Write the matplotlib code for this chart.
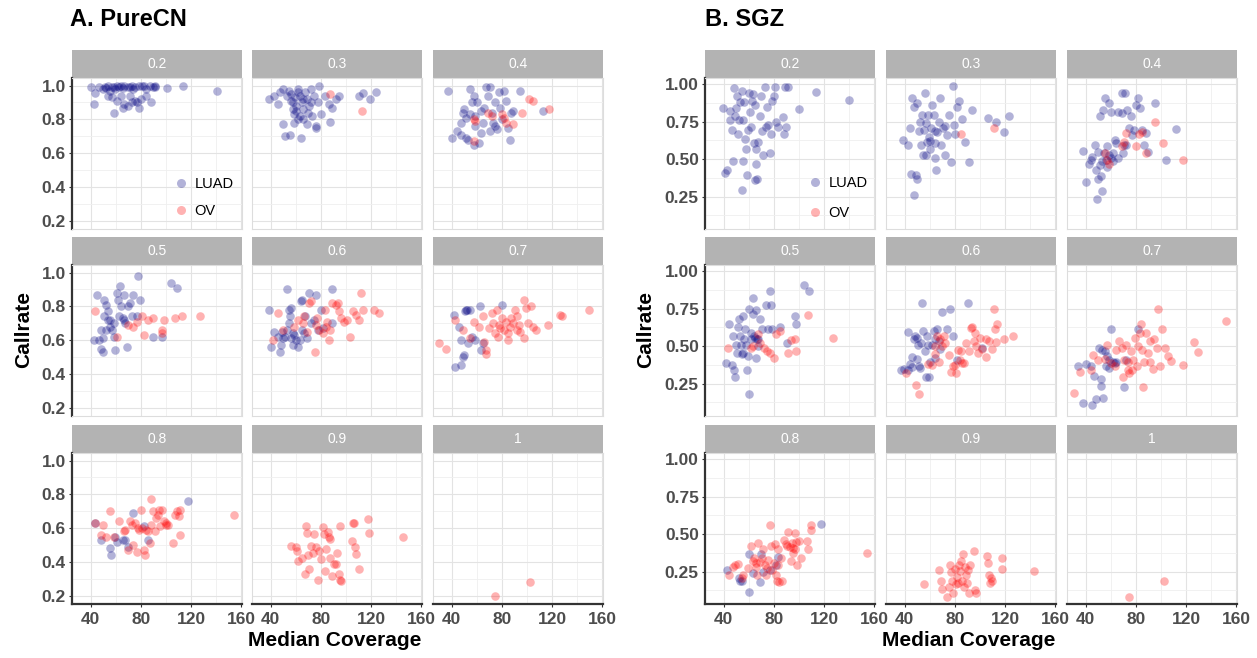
import matplotlib
matplotlib.use('Agg')
import matplotlib.pyplot as plt
from matplotlib.lines import Line2D
from matplotlib.ticker import FixedLocator, FixedFormatter

plt.rcParams['font.family'] = ['Liberation Sans', 'DejaVu Sans']

# ---------------- data ----------------
FACETS = ['0.2', '0.3', '0.4', '0.5', '0.6', '0.7', '0.8', '0.9', '1']
X_TICKS = [40, 80, 120, 160]
A_Y_TICKS = [0.2, 0.4, 0.6, 0.8, 1.0]
A_Y_LABELS = ['0.2', '0.4', '0.6', '0.8', '1.0']
B_Y_TICKS = [0.25, 0.50, 0.75, 1.00]
B_Y_LABELS = ['0.25', '0.50', '0.75', '1.00']
GROUPS = ['LUAD', 'OV']

# PureCN (panel A): (median coverage, callrate)
purecn_luad_02 = [(40, 0.99), (43.7, 0.956), (42.3, 0.89), (46.6, 0.99), (49.5, 0.98), (51, 0.99), (52.4, 0.984),
                  (53.8, 0.996), (55.3, 0.97), (56.7, 0.99), (58.1, 0.99), (59.6, 0.98), (61, 1.0), (62.4, 0.99),
                  (63.9, 1.0), (65.3, 0.984), (66.8, 0.995), (69.6, 0.99), (71, 0.99), (72.5, 0.995), (73.9, 0.98),
                  (75.4, 0.99), (78.2, 1.0), (81.1, 0.995), (82.6, 0.996), (84, 0.98), (86.9, 0.995), (89.8, 0.99),
                  (91.2, 0.99), (58.1, 0.84), (53.8, 0.94), (56.7, 0.93), (61, 0.91), (63.9, 0.94), (66.8, 0.89),
                  (69.6, 0.88), (72.5, 0.9), (75.4, 0.91), (78.2, 0.87), (79.7, 0.92), (84, 0.94), (88.3, 0.9),
                  (91.2, 0.995), (100.7, 0.985), (113.4, 0.995), (140.7, 0.97), (65.3, 0.87), (76.8, 0.9), (71, 0.94)]
purecn_ov_02 = []
purecn_luad_03 = [(38.6, 0.92), (42.9, 0.94), (45.8, 0.89), (47.2, 0.96), (50, 0.98), (52.9, 0.94), (54.4, 0.97),
                  (55.8, 0.91), (57.3, 0.86), (58.7, 0.83), (60.1, 0.88), (61.6, 0.98), (63, 0.94), (64.5, 0.9),
                  (65.9, 0.86), (67.3, 0.96), (68.8, 0.92), (70.2, 0.88), (71.7, 0.98), (73.1, 0.82), (74.5, 0.94),
                  (76, 0.76), (77.4, 0.9), (78.8, 1.0), (49.5, 0.77), (51.5, 0.70), (55.3, 0.71), (63.9, 0.69),
                  (58.7, 0.78), (61.6, 0.80), (76, 0.75), (68.8, 0.77), (87.5, 0.785), (83.2, 0.94), (86, 0.89),
                  (88.9, 0.87), (91.8, 0.92), (94.6, 0.94), (80.3, 0.83), (110, 0.94), (113.4, 0.955), (119.1, 0.92),
                  (123.5, 0.96), (56, 0.95), (59, 0.93), (62, 0.96), (66, 0.92), (60, 0.85), (63, 0.82), (66, 0.8),
                  (70, 0.84), (72, 0.9), (58, 0.9)]
purecn_ov_03 = [(87.5, 0.95), (112.8, 0.85)]
purecn_luad_04 = [(37, 0.97), (40, 0.69), (44.3, 0.73), (47.2, 0.78), (48.6, 0.84), (50.1, 0.86), (51.5, 0.81),
                  (52.9, 0.68), (54.4, 0.98), (55.8, 0.9), (57.3, 0.94), (58.7, 0.76), (60.1, 0.9), (61.6, 0.66),
                  (63, 0.72), (64.5, 0.78), (65.9, 0.87), (67.3, 0.99), (68.8, 0.94), (70.2, 0.99), (71.7, 0.84),
                  (73.1, 0.78), (74.5, 0.9), (76, 0.74), (77.4, 0.96), (78.8, 0.87), (80.3, 0.8), (81.7, 0.97),
                  (83.2, 0.91), (84.6, 0.75), (86, 0.68), (87.5, 0.84), (88.9, 0.85), (94.7, 0.97), (112.7, 0.85),
                  (51.5, 0.69), (57.3, 0.65), (47.2, 0.71), (54.4, 0.83), (58.7, 0.82), (63, 0.85), (70.2, 0.73),
                  (74.5, 0.76)]
purecn_ov_04 = [(57.3, 0.80), (58.7, 0.79), (57.3, 0.67), (68.8, 0.84), (71.7, 0.82), (80.3, 0.83), (81.7, 0.81),
                (83.2, 0.78), (88.9, 0.77), (96.1, 0.84), (101.9, 0.92), (104.7, 0.91), (117.7, 0.86)]
purecn_luad_05 = [(44.6, 0.87), (42.3, 0.60), (46.6, 0.6), (48.1, 0.55), (49.5, 0.53), (50.9, 0.84), (51.8, 0.81),
                  (52.4, 0.66), (53.8, 0.72), (55.3, 0.72), (56.7, 0.66), (58.1, 0.62), (59.6, 0.54), (61, 0.88),
                  (61.9, 0.84), (63.3, 0.92), (63.9, 0.8), (65.3, 0.73), (66.8, 0.87), (67.3, 0.70), (68.8, 0.56),
                  (69.6, 0.8), (71, 0.82), (74, 0.87), (77.6, 0.98), (79.1, 0.84), (50.9, 0.74), (53.8, 0.77),
                  (48.1, 0.66), (49.5, 0.61), (55.3, 0.68), (58.1, 0.7), (62.4, 0.74), (66.8, 0.72), (89.8, 0.62),
                  (97, 0.62), (104.2, 0.94), (108.5, 0.91), (72.5, 0.74), (76.8, 0.74)]
purecn_ov_05 = [(43.7, 0.77), (61, 0.62), (69.6, 0.69), (74, 0.68), (76.8, 0.71), (81.1, 0.74), (85.4, 0.72),
                (89.8, 0.73), (82.6, 0.63), (97, 0.66), (98.4, 0.72), (107.1, 0.73), (112.8, 0.74), (127.2, 0.74),
                (97, 0.64)]
purecn_luad_06 = [(38.6, 0.78), (40, 0.56), (42.9, 0.65), (45.8, 0.62), (47.2, 0.53), (47.8, 0.57), (49.5, 0.61),
                  (51.5, 0.62), (52.9, 0.9), (54.4, 0.78), (55.2, 0.74), (56.4, 0.79), (57.8, 0.57), (60.1, 0.6),
                  (61.6, 0.56), (63.9, 0.83), (65, 0.84), (66.5, 0.64), (68.8, 0.61), (70.2, 0.88), (71.7, 0.7),
                  (76, 0.87), (77.4, 0.66), (80.3, 0.78), (81.7, 0.67), (89, 0.9), (89, 0.7), (52.9, 0.66),
                  (57.3, 0.64), (58.7, 0.63), (55.8, 0.61), (63, 0.6), (74.5, 0.72), (67.3, 0.74), (64.5, 0.66),
                  (54.4, 0.7), (48.6, 0.65)]
purecn_ov_06 = [(41.4, 0.6), (45.8, 0.76), (50.1, 0.66), (58.7, 0.68), (61.9, 0.72), (65.6, 0.7), (70.2, 0.82),
                (71.7, 0.83), (75.2, 0.53), (76, 0.69), (78.8, 0.66), (81.7, 0.64), (83.2, 0.78), (84.6, 0.71),
                (86, 0.6), (87.5, 0.66), (89, 0.82), (91.8, 0.81), (93.3, 0.82), (94.7, 0.77), (96.1, 0.73),
                (98.4, 0.71), (100.4, 0.72), (103.3, 0.62), (105.3, 0.77), (111.9, 0.88), (107.6, 0.75),
                (110.5, 0.72), (113.4, 0.78), (122, 0.78), (126.3, 0.76), (66.8, 0.74), (68.8, 0.65), (76.5, 0.73),
                (84, 0.68)]
purecn_luad_07 = [(41.4, 0.75), (42.3, 0.44), (45.8, 0.68), (47.2, 0.45), (48.6, 0.5), (50.1, 0.51), (50.6, 0.77),
                  (52.4, 0.78), (52.9, 0.58), (54.4, 0.78), (55.8, 0.62), (58.7, 0.6), (62.4, 0.8), (51.5, 0.78),
                  (47.2, 0.6), (63, 0.54), (64.5, 0.58), (80.3, 0.81)]
purecn_ov_07 = [(29.9, 0.58), (35.7, 0.55), (42.9, 0.72), (48.6, 0.66), (54.4, 0.61), (57.3, 0.71), (61.6, 0.68),
                (65, 0.74), (65.9, 0.59), (67.3, 0.52), (69.4, 0.67), (71.7, 0.76), (73.1, 0.7), (74.5, 0.64),
                (76, 0.78), (77.4, 0.69), (78.8, 0.67), (80.3, 0.73), (81.7, 0.66), (83.2, 0.71), (84.6, 0.6),
                (86, 0.68), (87.5, 0.73), (89, 0.7), (90.4, 0.78), (91.8, 0.74), (93.2, 0.69), (94.7, 0.65),
                (97.6, 0.84), (97.6, 0.61), (99, 0.79), (100.4, 0.7), (103.3, 0.8), (104.7, 0.68), (107, 0.66),
                (116.3, 0.69), (126.3, 0.75), (127.8, 0.74), (149.4, 0.78), (84.6, 0.64), (91.8, 0.66),
                (67.3, 0.54), (76.6, 0.62)]
purecn_luad_08 = [(43.7, 0.63), (48.1, 0.53), (55.3, 0.48), (56.1, 0.44), (59.6, 0.55), (61, 0.52), (65.3, 0.53),
                  (69.6, 0.49), (74, 0.69), (82.6, 0.61), (85.4, 0.53), (117.1, 0.76), (67.3, 0.53)]
purecn_ov_08 = [(43.7, 0.63), (49.5, 0.62), (48.1, 0.56), (52.4, 0.55), (55.3, 0.70), (58.1, 0.55), (62.4, 0.64),
                (66.1, 0.58), (67.3, 0.59), (69.6, 0.47), (71, 0.64), (72.5, 0.62), (74, 0.5), (75.4, 0.63),
                (76.8, 0.46), (78.3, 0.59), (79.7, 0.71), (81.1, 0.6), (82.6, 0.47), (83.5, 0.44), (84, 0.59),
                (85.4, 0.58), (86.9, 0.51), (88.3, 0.77), (89.8, 0.7), (91.2, 0.58), (92.1, 0.66), (93.2, 0.68),
                (94, 0.71), (95.5, 0.61), (97, 0.71), (98.4, 0.64), (99.9, 0.63), (101.3, 0.62), (105.6, 0.51),
                (107, 0.68), (108.5, 0.7), (109.9, 0.67), (111.3, 0.56), (111.3, 0.71), (154.5, 0.68),
                (99.9, 0.62), (88.3, 0.62), (77.8, 0.6)]
purecn_luad_09 = []
purecn_ov_09 = [(55.8, 0.495), (60.1, 0.49), (60.9, 0.465), (61.6, 0.405), (64.5, 0.425), (67.3, 0.325),
                (67.8, 0.615), (68.8, 0.57), (69.7, 0.44), (70.8, 0.355), (71.7, 0.495), (73.7, 0.455),
                (74.5, 0.565), (76, 0.485), (77.4, 0.29), (78.8, 0.465), (80.3, 0.415), (81.2, 0.605),
                (82.3, 0.565), (83.2, 0.345), (84, 0.475), (85.2, 0.575), (86, 0.545), (87.5, 0.425), (89, 0.315),
                (90.4, 0.385), (91.8, 0.385), (92.7, 0.455), (94.7, 0.33), (95.5, 0.295), (96.1, 0.285),
                (95.5, 0.615), (104.7, 0.525), (105.3, 0.63), (106.2, 0.63), (107, 0.49), (108.2, 0.445),
                (109.9, 0.355), (117.7, 0.655), (118.6, 0.57), (145, 0.55), (87.5, 0.535)]
purecn_luad_10 = []
purecn_ov_10 = [(74.5, 0.195), (102.4, 0.28)]

# SGZ (panel B)
sgz_luad_02 = [(39, 0.84), (41.1, 0.405), (42.7, 0.43), (44.9, 0.76), (46.4, 0.695), (48.3, 0.975), (49, 0.785),
               (49.8, 0.84), (50.5, 0.92), (51.1, 0.67), (52, 0.76), (53, 0.88), (54.2, 0.955), (55.1, 0.76),
               (55.7, 0.88), (56.7, 0.635), (57.3, 0.57), (58.2, 0.395), (59.2, 0.695), (59.8, 0.94), (60.7, 0.815),
               (61.3, 0.715), (62.3, 0.885), (63.5, 0.935), (64.4, 0.605), (65, 0.86), (66, 0.47), (66.6, 0.37),
               (67.5, 0.615), (68.5, 0.785), (69.7, 0.92), (70.7, 0.685), (71.6, 0.53), (72.8, 0.98), (73.8, 0.715),
               (74.7, 0.845), (75.3, 0.73), (76.9, 0.54), (77.8, 0.665), (78.4, 0.885), (80, 0.92), (80.9, 0.98),
               (81.5, 0.75), (83.1, 0.715), (88.4, 0.98), (90.8, 0.98), (87.1, 0.78), (89.3, 0.715), (87.7, 0.67),
               (100.2, 0.835), (113.2, 0.945), (139.9, 0.895), (47.4, 0.49), (55.1, 0.49), (44.9, 0.82),
               (66, 0.57), (54.2, 0.295), (65, 0.36)]
sgz_ov_02 = []
sgz_luad_03 = [(38.4, 0.63), (42.7, 0.595), (43.9, 0.71), (44.6, 0.4), (47.4, 0.26), (48.9, 0.395), (49.5, 0.37),
               (45.8, 0.905), (49.5, 0.875), (51.4, 0.69), (52.6, 0.595), (53.6, 0.795), (54.5, 0.53), (55.7, 0.94),
               (56.7, 0.74), (57.6, 0.615), (58.2, 0.795), (58.9, 0.645), (59.8, 0.57), (60.7, 0.705), (62, 0.86),
               (62.9, 0.795), (63.8, 0.605), (64.4, 0.505), (65.1, 0.43), (66, 0.68), (66.9, 0.75), (68.2, 0.905),
               (69.1, 0.595), (70.7, 0.705), (72.2, 0.53), (73.8, 0.66), (75.3, 0.795), (76.9, 0.48), (78.4, 0.99),
               (79.3, 0.725), (80, 0.665), (81.5, 0.85), (83.1, 0.885), (85.6, 0.77), (87.7, 0.615), (90.8, 0.48),
               (93.9, 0.83), (106.4, 0.775), (112.6, 0.75), (118.8, 0.68), (122.8, 0.785), (47.4, 0.85),
               (55.1, 0.695), (59.8, 0.62), (64.4, 0.685), (56.7, 0.53), (52, 0.75), (72.2, 0.72)]
sgz_ov_03 = [(84.6, 0.665), (111, 0.71)]
sgz_luad_04 = [(37.4, 0.555), (40.5, 0.345), (42.7, 0.47), (44.9, 0.515), (47.4, 0.595), (48, 0.43), (48.9, 0.235),
               (49.8, 0.37), (51.1, 0.785), (52, 0.385), (52.9, 0.285), (53.6, 0.83), (54.5, 0.54), (55.1, 0.905),
               (56.1, 0.495), (56.7, 0.585), (58.2, 0.875), (59.8, 0.815), (60.4, 0.505), (61.3, 0.54),
               (62.9, 0.63), (64.4, 0.605), (66, 0.815), (68.5, 0.94), (69.1, 0.805), (70.7, 0.595), (71.6, 0.94),
               (72.8, 0.83), (74.7, 0.705), (76, 0.79), (76.9, 0.66), (78.4, 0.695), (80, 0.86), (81.5, 0.905),
               (83.1, 0.84), (84.6, 0.695), (86.2, 0.595), (87.7, 0.675), (89.3, 0.545), (95.5, 0.875),
               (103.8, 0.495), (111.6, 0.7), (44.3, 0.495), (49.8, 0.55), (52.9, 0.485), (58.2, 0.53),
               (61.3, 0.485), (51.5, 0.46), (56.7, 0.45), (66, 0.505), (69.7, 0.54), (72.2, 0.595)]
sgz_ov_04 = [(55.1, 0.54), (56.7, 0.495), (58.2, 0.47), (69.1, 0.585), (70.7, 0.615), (72.2, 0.675), (80, 0.585),
             (82.1, 0.665), (84.6, 0.68), (87.7, 0.54), (95.5, 0.75), (101.7, 0.605), (117.2, 0.495)]
sgz_luad_05 = [(41.8, 0.39), (44.3, 0.65), (46.7, 0.375), (47.9, 0.34), (48.9, 0.295), (49.8, 0.51), (51.1, 0.625),
               (52, 0.68), (53, 0.57), (54.2, 0.445), (55.1, 0.7), (56.1, 0.545), (56.7, 0.615), (58.2, 0.34),
               (59.2, 0.435), (60.4, 0.75), (61.3, 0.59), (62.9, 0.82), (63.5, 0.715), (64.4, 0.57), (65.4, 0.42),
               (66, 0.74), (66.6, 0.545), (67.5, 0.5), (59.8, 0.18), (69.1, 0.68), (70.7, 0.615), (73.8, 0.775),
               (75.3, 0.615), (76.9, 0.865), (77.8, 0.775), (78.4, 0.615), (53.6, 0.51), (55.1, 0.455),
               (57.3, 0.51), (61.9, 0.545), (50.5, 0.455), (84.6, 0.625), (90.2, 0.52), (97, 0.7), (97.6, 0.65),
               (103.9, 0.905), (107.9, 0.87), (47.4, 0.57), (64.8, 0.555), (67.5, 0.545)]
sgz_ov_05 = [(43.3, 0.49), (61.3, 0.49), (62.9, 0.5), (67.5, 0.58), (72.2, 0.49), (74.7, 0.465), (76.9, 0.455),
             (80, 0.42), (81.5, 0.58), (84.6, 0.6), (90.8, 0.455), (93.9, 0.54), (96.4, 0.545), (97.6, 0.47),
             (106.9, 0.705), (127.2, 0.555), (69.1, 0.52)]
sgz_luad_06 = [(37.1, 0.34), (39.6, 0.35), (42.7, 0.595), (44.3, 0.38), (45.8, 0.36), (47.4, 0.545), (48.3, 0.57),
               (49.5, 0.415), (50.5, 0.505), (51.4, 0.365), (52, 0.355), (53.6, 0.79), (54.5, 0.6), (55.7, 0.465),
               (56.7, 0.295), (57.6, 0.57), (58.9, 0.295), (59.8, 0.395), (61.3, 0.505), (62.9, 0.6), (64.4, 0.42),
               (66, 0.615), (66.9, 0.535), (68.2, 0.48), (70, 0.725), (73.8, 0.615), (76.3, 0.745), (81.8, 0.405),
               (90.3, 0.79), (101.2, 0.49), (45.8, 0.43), (49.5, 0.555), (42.7, 0.34), (58.2, 0.505),
               (52.6, 0.52), (64.4, 0.545), (78.4, 0.57)]
sgz_ov_06 = [(41.1, 0.32), (48.9, 0.24), (51.4, 0.18), (58.2, 0.38), (61.3, 0.375), (63.8, 0.445), (66, 0.57),
             (68.2, 0.545), (70, 0.5), (72.2, 0.52), (75.3, 0.44), (76.9, 0.33), (78.4, 0.37), (80, 0.375),
             (80.6, 0.32), (82.4, 0.475), (83.7, 0.41), (85.5, 0.385), (86.8, 0.39), (88.7, 0.52), (90.8, 0.47),
             (92.4, 0.62), (93.3, 0.625), (94.9, 0.535), (96.1, 0.59), (97.1, 0.5), (98.6, 0.455), (100.2, 0.555),
             (101.7, 0.48), (104.8, 0.43), (107.3, 0.535), (109.5, 0.48), (111, 0.75), (111.6, 0.615),
             (112.6, 0.525), (113.5, 0.65), (118.8, 0.55), (125.9, 0.565), (64.4, 0.5), (71.6, 0.57),
             (67.5, 0.395), (84.6, 0.465), (104.8, 0.545)]
sgz_luad_07 = [(33.4, 0.365), (40.5, 0.38), (44.3, 0.365), (46.7, 0.3), (48, 0.15), (50.5, 0.485), (52, 0.28),
               (52, 0.235), (52.9, 0.475), (53.6, 0.155), (55.1, 0.465), (56.7, 0.435), (58.2, 0.41), (59.8, 0.615),
               (61.3, 0.395), (62.9, 0.385), (64.4, 0.395), (70.7, 0.225), (72.2, 0.405), (81.5, 0.615),
               (38, 0.12), (44.9, 0.105), (56.1, 0.37), (58.2, 0.355)]
sgz_ov_07 = [(30.3, 0.185), (35, 0.325), (44.3, 0.34), (45.8, 0.44), (49.8, 0.405), (55.1, 0.415), (56.7, 0.51),
             (59.8, 0.385), (62.9, 0.365), (64.4, 0.475), (66.6, 0.535), (68.5, 0.49), (69.7, 0.295),
             (70.7, 0.405), (72.2, 0.51), (73.8, 0.395), (74.7, 0.32), (76, 0.465), (76.9, 0.34), (77.8, 0.405),
             (79, 0.555), (80.9, 0.365), (81.5, 0.5), (83.1, 0.59), (84, 0.645), (85.2, 0.225), (86.2, 0.395),
             (87.7, 0.59), (89.3, 0.455), (90.8, 0.535), (91.5, 0.395), (93.3, 0.35), (94.6, 0.545), (96.4, 0.49),
             (97.6, 0.745), (99.5, 0.365), (100.8, 0.615), (103.3, 0.485), (105.7, 0.435), (107.9, 0.4),
             (117.2, 0.375), (126.6, 0.53), (129.7, 0.46), (151.4, 0.67), (73.8, 0.34), (84.6, 0.475)]
sgz_luad_08 = [(42.7, 0.26), (52, 0.205), (54.2, 0.19), (59.8, 0.115), (60.4, 0.37), (62.9, 0.24), (68.5, 0.18),
               (69.7, 0.365), (71.6, 0.25), (76.9, 0.26), (81.5, 0.295), (83.1, 0.345), (53, 0.19), (117.1, 0.565)]
sgz_ov_08 = [(44.3, 0.225), (47.4, 0.28), (49, 0.295), (51.1, 0.3), (54.2, 0.21), (55.1, 0.225), (61.3, 0.42),
             (62.9, 0.32), (64.4, 0.34), (65.4, 0.28), (66.6, 0.225), (67.5, 0.44), (69.1, 0.315), (70.7, 0.34),
             (71.6, 0.4), (72.8, 0.295), (73.8, 0.225), (74.7, 0.275), (75.3, 0.325), (76.9, 0.56), (77.8, 0.42),
             (78.4, 0.26), (80, 0.305), (80.9, 0.435), (81.5, 0.225), (82.1, 0.185), (83.1, 0.295), (84, 0.18),
             (85.2, 0.34), (86.2, 0.185), (87.7, 0.46), (89.3, 0.435), (90.2, 0.42), (91.5, 0.515), (92.4, 0.415),
             (93.3, 0.32), (94, 0.44), (94.9, 0.41), (95.5, 0.375), (96.4, 0.505), (97, 0.4), (97.9, 0.445),
             (98.6, 0.295), (100.2, 0.455), (101.7, 0.34), (106.4, 0.455), (107, 0.4), (109.5, 0.56),
             (109.5, 0.525), (154.5, 0.375), (59.2, 0.275), (65.9, 0.305), (83.1, 0.4)]
sgz_luad_09 = []
sgz_ov_09 = [(55.1, 0.165), (67.5, 0.26), (69.1, 0.185), (70, 0.135), (73.8, 0.08), (75.3, 0.145), (76.3, 0.295),
             (76.9, 0.25), (77.5, 0.185), (78.4, 0.11), (80, 0.27), (81.5, 0.215), (82.5, 0.175), (83.7, 0.255),
             (84.6, 0.32), (85.5, 0.19), (86.2, 0.37), (86.8, 0.145), (87.7, 0.28), (88.7, 0.225), (89.3, 0.175),
             (90, 0.26), (90.8, 0.11), (94.9, 0.39), (96.1, 0.125), (97.1, 0.11), (105.7, 0.355), (106.4, 0.31),
             (107, 0.225), (107.9, 0.175), (108.6, 0.205), (109.5, 0.185), (117.2, 0.34), (117.8, 0.27),
             (142.7, 0.255), (83, 0.295), (91.7, 0.295), (80.6, 0.165)]
sgz_luad_10 = []
sgz_ov_10 = [(74.7, 0.08), (102.6, 0.19)]

PURECN_LUAD = [purecn_luad_02, purecn_luad_03, purecn_luad_04, purecn_luad_05, purecn_luad_06,
               purecn_luad_07, purecn_luad_08, purecn_luad_09, purecn_luad_10]
PURECN_OV = [purecn_ov_02, purecn_ov_03, purecn_ov_04, purecn_ov_05, purecn_ov_06,
             purecn_ov_07, purecn_ov_08, purecn_ov_09, purecn_ov_10]
SGZ_LUAD = [sgz_luad_02, sgz_luad_03, sgz_luad_04, sgz_luad_05, sgz_luad_06,
            sgz_luad_07, sgz_luad_08, sgz_luad_09, sgz_luad_10]
SGZ_OV = [sgz_ov_02, sgz_ov_03, sgz_ov_04, sgz_ov_05, sgz_ov_06,
          sgz_ov_07, sgz_ov_08, sgz_ov_09, sgz_ov_10]

# ---------------- style / layout ----------------
W, H = 1257, 658
COLORS = {'LUAD': '#000080', 'OV': '#FF0000'}
ALPHA = 0.3
MS = 38
STRIP_COLOR = '#B3B3B3'
XLIM = (25, 160.5)
TICK_FS = 12.5

fig = plt.figure(figsize=(W / 100, H / 100), dpi=100)


def px_axes(left, top, w, h):
    return fig.add_axes([left / W, 1 - (top + h) / H, w / W, h / H])


def draw_panel(col_lefts, luad_sets, ov_sets, ylim, yticks, ylabels, yminor, legend_pos):
    strip_tops = [50, 237, 425]
    sh, pw, ph = 28, 170, 151
    for i, fac in enumerate(FACETS):
        r, c = divmod(i, 3)
        left = col_lefts[c]
        st = strip_tops[r]
        sax = px_axes(left, st, pw, sh)
        sax.set_facecolor(STRIP_COLOR)
        sax.set_xticks([]); sax.set_yticks([])
        for sp in sax.spines.values():
            sp.set_visible(False)
        sax.text(0.5, 0.5, fac, color='white', ha='center', va='center', fontsize=10,
                 transform=sax.transAxes)

        ax = px_axes(left, st + sh, pw, ph)
        ax.set_xlim(*XLIM)
        ax.set_ylim(*ylim)
        ax.xaxis.set_major_locator(FixedLocator(X_TICKS))
        ax.xaxis.set_minor_locator(FixedLocator([60, 100, 140]))
        ax.yaxis.set_major_locator(FixedLocator(yticks))
        ax.yaxis.set_minor_locator(FixedLocator(yminor))
        ax.grid(True, which='major', color='#E3E3E3', lw=0.8, zorder=0)
        ax.grid(True, which='minor', color='#EFEFEF', lw=0.6, zorder=0)
        ax.set_axisbelow(True)
        for sp in ax.spines.values():
            sp.set_color('#DDDDDD'); sp.set_linewidth(0.8)
        ax.tick_params(which='both', length=0)
        if c == 0:
            ax.spines['left'].set_color('#333333'); ax.spines['left'].set_linewidth(1.6)
            ax.yaxis.set_major_formatter(FixedFormatter(ylabels))
            ax.tick_params(axis='y', which='major', length=2.5, color='#333333', labelsize=TICK_FS,
                           labelcolor='#4D4D4D', pad=2)
            for t in ax.get_yticklabels():
                t.set_fontweight('bold')
        else:
            ax.set_yticklabels([])
        if r == 2:
            ax.spines['bottom'].set_color('#333333'); ax.spines['bottom'].set_linewidth(1.6)
            ax.xaxis.set_major_formatter(FixedFormatter([str(v) for v in X_TICKS]))
            ax.tick_params(axis='x', which='major', length=2.5, color='#333333', labelsize=TICK_FS,
                           labelcolor='#4D4D4D', pad=3)
            for t in ax.get_xticklabels():
                t.set_fontweight('bold')
        else:
            ax.set_xticklabels([])

        for grp, data in (('LUAD', luad_sets[i]), ('OV', ov_sets[i])):
            if data:
                xs = [p[0] for p in data]
                ys = [p[1] for p in data]
                ax.scatter(xs, ys, s=MS, color=COLORS[grp], alpha=ALPHA, linewidths=0, zorder=3)

        if i == 0:
            handles = [Line2D([], [], ls='none', marker='o', markersize=6.5, markerfacecolor=COLORS[g],
                              markeredgewidth=0, alpha=ALPHA) for g in GROUPS]
            ax.legend(handles, GROUPS, loc='upper left', frameon=False,
                      bbox_to_anchor=(legend_pos[0] / W, 1 - legend_pos[1] / H),
                      bbox_transform=fig.transFigure, fontsize=10.5, handlelength=0.8,
                      handletextpad=0.5, labelspacing=legend_pos[2], borderpad=0)


draw_panel([72, 252, 433], PURECN_LUAD, PURECN_OV, (0.15, 1.045),
           A_Y_TICKS, A_Y_LABELS, [0.3, 0.5, 0.7, 0.9], (168, 170, 0.85))
draw_panel([705, 886, 1067], SGZ_LUAD, SGZ_OV, (0.035, 1.04),
           B_Y_TICKS, B_Y_LABELS, [0.125, 0.375, 0.625, 0.875], (802, 169, 1.1))

fig.text(70 / W, 1 - 20 / H, 'A. PureCN', fontsize=17, fontweight='bold', va='center', ha='left')
fig.text(705 / W, 1 - 20 / H, 'B. SGZ', fontsize=17, fontweight='bold', va='center', ha='left')
fig.text(24 / W, 1 - 330 / H, 'Callrate', fontsize=15, fontweight='bold', rotation=90, va='center', ha='center')
fig.text(646 / W, 1 - 330 / H, 'Callrate', fontsize=15, fontweight='bold', rotation=90, va='center', ha='center')
fig.text(335 / W, 1 - 641 / H, 'Median Coverage', fontsize=15, fontweight='bold', va='center', ha='center')
fig.text(969 / W, 1 - 641 / H, 'Median Coverage', fontsize=15, fontweight='bold', va='center', ha='center')

fig.savefig('out.png', dpi=100, facecolor='white')
